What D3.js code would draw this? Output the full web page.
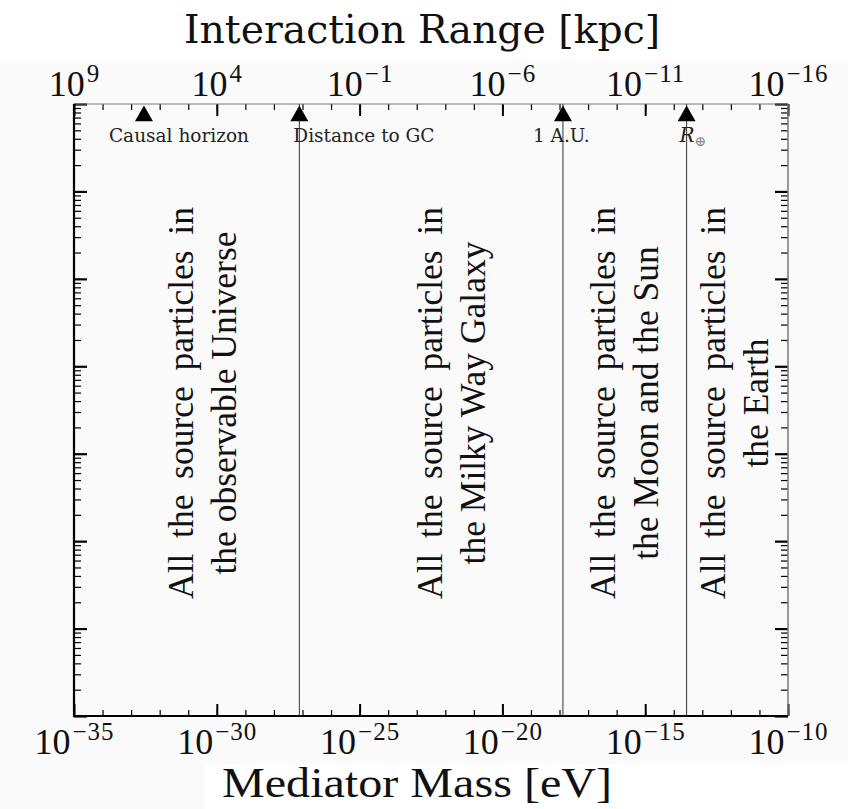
<!DOCTYPE html>
<html>
<head>
<meta charset="utf-8">
<script src="https://cdn.jsdelivr.net/npm/d3@7"></script>
<style>
  body { margin: 0; background: #fff; }
  svg { display: block; }
</style>
</head>
<body>
<svg id="chart" width="848" height="809"></svg>
<script>
// bottom axis: mediator mass, one tick per decade (log10 eV)
const massDecades = d3.range(-35, -9);
const massLabels = [-35, -30, -25, -20, -15, -10];
// top axis: interaction range (log10 kpc)
const rangeDecades = d3.range(9, -17, -1);
const rangeLabels = [9, 4, -1, -6, -11, -16];
// left/right axis: 7 decades, labels are cut off in the original
const yDecades = [0, 7];

// reference scales marked on the top axis (log10 eV)
const markerNames = ["Causal horizon", "Distance to GC", "1 A.U.", "R"];
const markerMass = [-32.55, -27.11, -17.88, -13.55];
const markerLine = [false, true, true, true];

// rotated region notes
const regionLine1 = [
  "All the source particles in",
  "All the source particles in",
  "All the source particles in",
  "All the source particles in",
];
const regionLine2 = [
  "the observable Universe",
  "the Milky Way Galaxy",
  "the Moon and the Sun",
  "the Earth",
];
const regionMass = [-30.83, -22.13, -16.06, -12.21];
const regionY = 3.58; // log10 of the vertical centre

const W = 848, H = 809;
const m = { left: 74, right: 788, top: 104, bottom: 716 };
const pow = (e) => Math.pow(10, e);

const svg = d3.select("#chart");
svg.append("rect").attr("width", W).attr("height", H).attr("fill", "#fafafa");
svg.append("rect").attr("x", 0).attr("y", 0).attr("width", W).attr("height", 60).attr("fill", "#fff");
svg.append("rect").attr("x", 205).attr("y", 764).attr("width", W - 205).attr("height", H - 764).attr("fill", "#fff");

const x = d3.scaleLog().domain([pow(-35), pow(-10)]).range([m.left, m.right]);
const xTop = d3.scaleLog().domain([pow(9), pow(-16)]).range([m.left, m.right]);
const y = d3.scaleLog().domain(yDecades.map(pow)).range([m.bottom, m.top]);

const serif = "'Liberation Serif', 'Times New Roman', serif";

// superscript power-of-ten labels
function powerLabel(sel, exps) {
  sel.selectAll("text").each(function (d, i) {
    const t = d3.select(this).text(null);
    const e = exps[i];
    t.append("tspan").text("10");
    t.append("tspan")
      .attr("dx", 2)
      .attr("dy", -14)
      .attr("font-size", 25)
      .attr("letter-spacing", 1)
      .text(e < 0 ? "\u2212" + Math.abs(e) : String(e));
  });
}

function styleAxis(g, width) {
  g.select(".domain").remove();
  g.selectAll(".tick line").attr("stroke", "#000").attr("stroke-width", width);
}

// bottom axis
const gb = svg.append("g").attr("transform", `translate(0,${m.bottom})`);
gb.append("g")
  .call(d3.axisBottom(x).tickValues(massDecades.map(pow)).tickSize(-6).tickFormat(""))
  .call(styleAxis, 1.2);
const gbMaj = gb.append("g")
  .call(d3.axisBottom(x).tickValues(massLabels.map(pow)).tickSize(-12))
  .call(styleAxis, 2);
gbMaj.selectAll("text")
  .attr("y", 38).attr("dy", 0)
  .attr("font-family", serif).attr("font-size", 36).attr("fill", "#111");
powerLabel(gbMaj, massLabels);

// top axis
const gt = svg.append("g").attr("transform", `translate(0,${m.top})`);
gt.append("g")
  .call(d3.axisTop(xTop).tickValues(rangeDecades.map(pow)).tickSize(-6).tickFormat(""))
  .call(styleAxis, 1.2);
const gtMaj = gt.append("g")
  .call(d3.axisTop(xTop).tickValues(rangeLabels.map(pow)).tickSize(-12))
  .call(styleAxis, 2);
gtMaj.selectAll("text")
  .attr("y", -8).attr("dy", 0)
  .attr("font-family", serif).attr("font-size", 36).attr("fill", "#111");
powerLabel(gtMaj, rangeLabels);

// left and right axes, decades long, 2..9 short
const yMinor = y.ticks().filter((v) => Math.abs(Math.log10(v) % 1) > 1e-6);
const yMajor = d3.range(yDecades[0], yDecades[1] + 1).map(pow);
[[d3.axisLeft, m.left], [d3.axisRight, m.right]].forEach(([ax, px]) => {
  const g = svg.append("g").attr("transform", `translate(${px},0)`);
  g.append("g").call(ax(y).tickValues(yMinor).tickSize(-7).tickFormat("")).call(styleAxis, 1.2);
  g.append("g").call(ax(y).tickValues(yMajor).tickSize(-13).tickFormat("")).call(styleAxis, 2.2);
});

// frame
svg.append("line").attr("x1", m.left).attr("x2", m.right).attr("y1", m.top).attr("y2", m.top)
  .attr("stroke", "#777").attr("stroke-width", 1.2);
svg.append("line").attr("x1", m.right).attr("x2", m.right).attr("y1", m.top).attr("y2", m.bottom)
  .attr("stroke", "#777").attr("stroke-width", 1.5);
svg.append("line").attr("x1", m.left).attr("x2", m.right).attr("y1", m.bottom).attr("y2", m.bottom)
  .attr("stroke", "#000").attr("stroke-width", 2);
svg.append("line").attr("x1", m.left).attr("x2", m.left).attr("y1", m.top).attr("y2", m.bottom + 1)
  .attr("stroke", "#000").attr("stroke-width", 2.2);

// markers: vertical lines, triangles and labels
const labelDx = [-35, -6, -30, -7];
markerMass.forEach((e, i) => {
  const px = x(pow(e));
  if (markerLine[i]) {
    svg.append("line").attr("x1", px).attr("x2", px).attr("y1", m.top).attr("y2", m.bottom)
      .attr("stroke", "#333").attr("stroke-width", 1);
  }
  svg.append("path")
    .attr("d", d3.symbol(d3.symbolTriangle, 140)())
    .attr("transform", `translate(${px},${m.top + 12})`)
    .attr("fill", "#000");
  const t = svg.append("text")
    .attr("x", px + labelDx[i]).attr("y", 142)
    .attr("font-family", "'DejaVu Serif', serif").attr("font-size", 18.5)
    .attr("fill", "#222");
  if (markerNames[i] === "R") {
    t.append("tspan").attr("font-style", "italic").attr("font-size", 20).text("R");
    t.append("tspan").attr("dy", 4).attr("font-size", 14).attr("fill", "#888").text("\u2295");
  } else {
    t.text(markerNames[i]);
  }
});

// region notes: first line justified to a fixed width, second centred
const lineWidth = 392;
regionMass.forEach((e, i) => {
  const g = svg.append("g")
    .attr("transform", `translate(${x(pow(e))},${y(pow(regionY))}) rotate(-90)`)
    .attr("font-family", serif).attr("font-size", 35.5).attr("fill", "#111")
    .attr("text-anchor", "middle");
  const l1 = g.append("text").text(regionLine1[i]);
  const spaces = regionLine1[i].split(" ").length - 1;
  const natural = l1.node().getComputedTextLength();
  l1.attr("word-spacing", (lineWidth - natural) / spaces);
  g.append("text").attr("y", 43).text(regionLine2[i]);
});

// axis titles
svg.append("text")
  .attr("x", 422).attr("y", 43)
  .attr("text-anchor", "middle")
  .attr("font-family", "'DejaVu Serif', serif").attr("font-size", 40)
  .attr("fill", "#111")
  .attr("textLength", 476).attr("lengthAdjust", "spacingAndGlyphs")
  .text("Interaction Range [kpc]");

svg.append("text")
  .attr("x", 417).attr("y", 797)
  .attr("text-anchor", "middle")
  .attr("font-family", serif).attr("font-size", 42)
  .attr("fill", "#111")
  .attr("textLength", 390).attr("lengthAdjust", "spacingAndGlyphs")
  .text("Mediator Mass [eV]");
</script>
</body>
</html>
